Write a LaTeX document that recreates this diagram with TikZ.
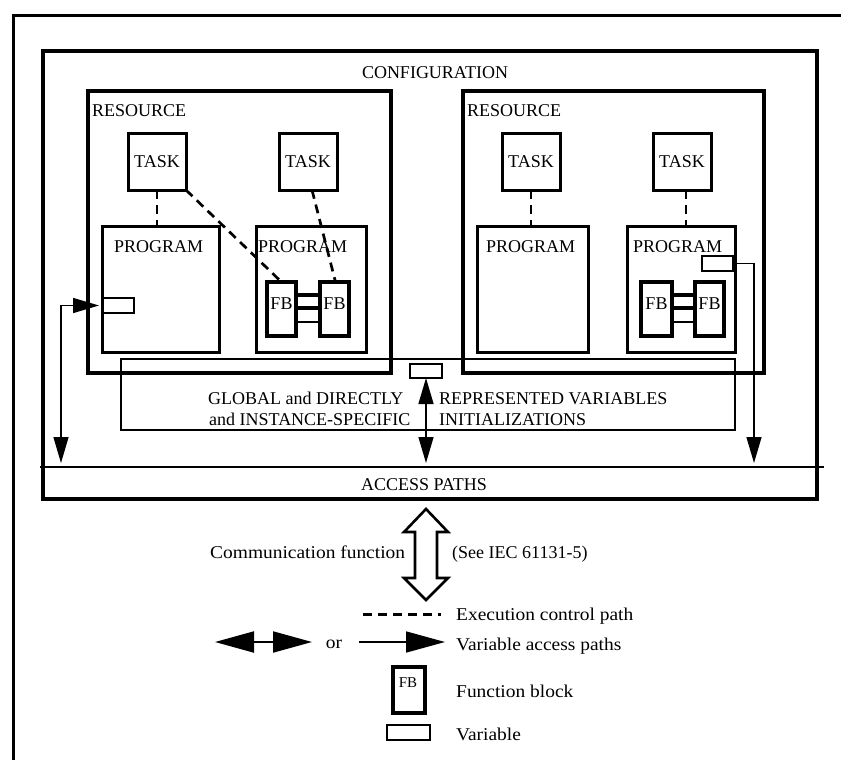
\documentclass[tikz,border=0pt]{standalone}
\usepackage{fontspec}
\setmainfont{Liberation Serif}
\newfontfamily\widefont{Liberation Serif}[FakeStretch=1.08]
\usetikzlibrary{arrows.meta,calc}

\tikzset{
  vtip/.tip={Triangle[length=26pt,width=15pt]},
  btip/.tip={Triangle[length=39pt,width=21pt]},
}

\begin{document}
\begin{tikzpicture}[x=1pt,y=-1pt,
  every node/.style={font=\fontsize{18}{21}\selectfont},
  heavy/.style={draw, line width=3.4pt, inner sep=0pt, outer sep=0pt, anchor=north west},
  medium/.style={draw, line width=3pt, inner sep=0pt, outer sep=0pt, anchor=north west},
  slim/.style={draw, line width=1.4pt, inner sep=0pt, outer sep=0pt, anchor=north west},
  lab/.style={inner sep=0pt, anchor=base west},
  clab/.style={inner sep=0pt, anchor=base},
  wlab/.style={lab, font=\widefont\fontsize{18}{21}\selectfont},
  ctl/.style={line width=2.7pt, dash pattern=on 9pt off 6pt},
  acc/.style={line width=1.4pt},
]
\useasboundingbox (0,0) rectangle (841,760);

% outer frame
\draw[line width=3.2pt] (13.5,780) -- (13.5,15.5) -- (860,15.5);

% configuration
\node[heavy, minimum width=774, minimum height=448] (config) at (43,51) {};
\node[clab] (configlab) at (435,79) {CONFIGURATION};

% resources
\node[heavy, minimum width=303, minimum height=282] (res1) at (88,91) {};
\node[heavy, minimum width=301, minimum height=282] (res2) at (463,91) {};
\node[lab] (res1lab) at (92,117) {RESOURCE};
\node[lab] (res2lab) at (467,117) {RESOURCE};

% tasks
\node[medium, minimum width=58, minimum height=57] (t1) at (128,133) {};
\node[medium, minimum width=58, minimum height=57] (t2) at (279,133) {};
\node[medium, minimum width=58, minimum height=57] (t3) at (502,133) {};
\node[medium, minimum width=58, minimum height=57] (t4) at (653,133) {};
\foreach \t in {t1,t2,t3,t4} \node[inner sep=0pt] (\t lab) at (\t.center) {TASK};

% programs
\node[medium, minimum width=117, minimum height=126] (p1) at (102,226) {};
\node[medium, minimum width=110, minimum height=126] (p2) at (256,226) {};
\node[medium, minimum width=111, minimum height=126] (p3) at (477,226) {};
\node[medium, minimum width=108, minimum height=126] (p4) at (627,226) {};
\node[lab] (p1lab) at (114,252) {PROGRAM};
\node[lab] (p2lab) at (258,252) {PROGRAM};
\node[lab] (p3lab) at (486,252) {PROGRAM};
\node[lab] (p4lab) at (633,252) {PROGRAM};

% function blocks
\node[heavy, minimum width=29, minimum height=54] (f1) at (267,282) {};
\node[heavy, minimum width=29, minimum height=54] (f2) at (320,282) {};
\node[heavy, minimum width=31, minimum height=54] (f3) at (641,282) {};
\node[heavy, minimum width=29, minimum height=54] (f4) at (695,282) {};
\foreach \f in {f1,f2,f3,f4} \node[clab] (\f lab) at (\f.center) {FB};

% links between function blocks
\foreach \a/\b in {f1/f2,f3/f4}{
  \draw[line width=3.2pt] ($(\a.north east)+(0,13)$) -- ($(\b.north west)+(0,13)$);
  \draw[line width=3.2pt] ($(\a.north east)+(0,26)$) -- ($(\b.north west)+(0,26)$);
  \draw[line width=2pt]   ($(\a.north east)+(0,40)$) -- ($(\b.north west)+(0,40)$);
}

% global variables area
\node[slim, minimum width=614, minimum height=71] (glob) at (121,359) {};
\node[lab] (g1) at (208,404) {GLOBAL and DIRECTLY};
\node[lab] (g2) at (209,425) {and INSTANCE-SPECIFIC};
\node[lab] (g3) at (439,404) {REPRESENTED VARIABLES};
\node[lab] (g4) at (439,425) {INITIALIZATIONS};

% variables
\node[slim, minimum width=32, minimum height=15] (v1) at (102,298) {};
\node[slim, minimum width=32, minimum height=14] (v2) at (410,364) {};
\node[slim, minimum width=31, minimum height=15] (v3) at (702,256) {};

% access paths
\coordinate (apl) at (40,467);
\coordinate (apr) at (824,467);
\draw[acc] (apl) -- (apr);
\node[clab] (aplab) at (424,490) {ACCESS PATHS};

\coordinate (e1) at (61,463);
\coordinate (e2) at (426,463);
\coordinate (e3) at (754,463);
\draw[acc, vtip-vtip, shorten <=3pt] (v1.west) -| (e1);
\draw[acc, vtip-vtip] (v2.south) -- (e2);
\draw[acc, -vtip, shorten <=4pt] (v3.east) -| (e3);

% execution control paths
\draw[ctl] (t1.south) -- (t1.south |- p1.north);
\draw[ctl] (t1.south east) -- (f1.north);
\draw[ctl] ([xshift=4pt]t2.south) -- ([xshift=1pt]f2.north);
\draw[ctl] (t3.south) -- (t3.south |- p3.north);
\draw[ctl] ([xshift=4pt]t4.south) -- ([xshift=4pt]t4.south |- p4.north);

% communication function
\draw[line width=2.6pt, line join=miter]
  (426,509) -- (448,532) -- (437,532) -- (437,578) -- (448,578) -- (426,600)
  -- (404,578) -- (415,578) -- (415,532) -- (404,532) -- cycle;
\node[wlab] (comm) at (210,558) {Communication function};
\node[lab] (iec) at (452,558) {(See IEC 61131-5)};

% legend
\coordinate (d1) at (363,614);
\coordinate (d2) at (441,614);
\draw[ctl, line width=3pt] (d1) -- (d2);
\node[wlab] (lg1) at (456,620) {Execution control path};

\coordinate (b1) at (215,642);
\coordinate (b2) at (312,642);
\draw[line width=2pt, btip-btip] (b1) -- (b2);
\node[wlab, anchor=base] (or) at (334,648) {or};
\coordinate (s1) at (359,642);
\coordinate (s2) at (445,642);
\draw[line width=1.6pt, -btip] (s1) -- (s2);
\node[wlab] (lg2) at (456,650) {Variable access paths};

\node[heavy, minimum width=32, minimum height=46] (fbkey) at (393,667) {};
\node[clab, font=\fontsize{15}{17}\selectfont] (fbkeylab) at (408,687) {FB};
\node[wlab] (lg3) at (456,697) {Function block};

\node[slim, minimum width=43, minimum height=15] (varkey) at (387,725) {};
\node[wlab] (lg4) at (456,740) {Variable};
\end{tikzpicture}
\end{document}
